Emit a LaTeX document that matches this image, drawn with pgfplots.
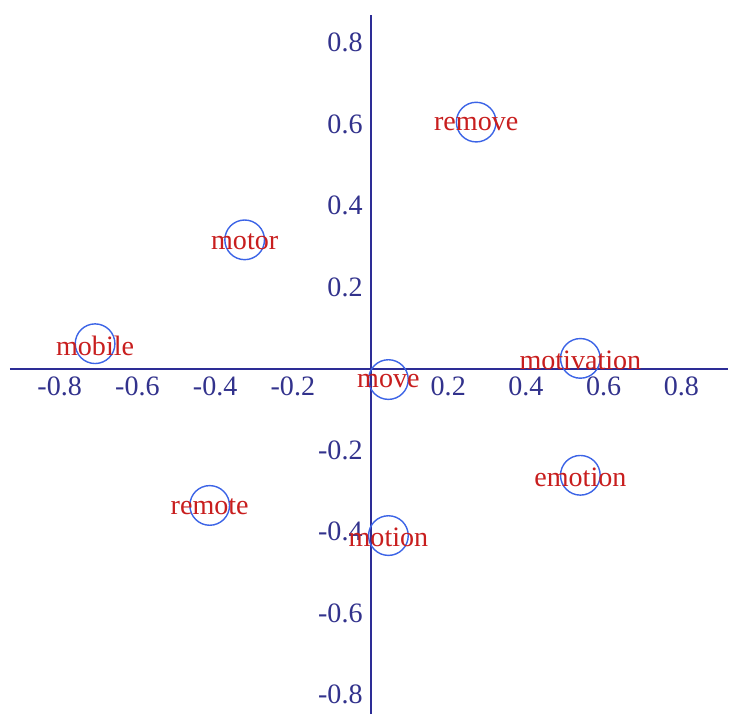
\documentclass[border=0pt]{standalone}
\usepackage{fontspec}
\setmainfont{Liberation Serif}
\usepackage{pgfplots}
\pgfplotsset{compat=1.18}
\definecolor{axisnavy}{RGB}{45,45,150}
\definecolor{ticknavy}{RGB}{50,50,140}
\definecolor{labelred}{RGB}{200,30,30}
\definecolor{ringblue}{RGB}{60,100,230}
\begin{document}
\begin{tikzpicture}
\begin{axis}[
  scale only axis, width=14.38cm, height=14.0cm,
  axis lines=middle, axis line style={axisnavy, line width=1.15pt, -},
  xmin=-0.928, xmax=0.92, ymin=-0.848, ymax=0.868,
  xtick={-0.8,-0.6,-0.4,-0.2,0.2,0.4,0.6,0.8},
  ytick={-0.8,-0.6,-0.4,-0.2,0.2,0.4,0.6,0.8},
  major tick length=0,
  /pgf/number format/assume math mode=true,
  /pgf/number format/fixed, /pgf/number format/precision=1,
  tick label style={font=\fontsize{16}{18}\selectfont, text=ticknavy},
  xticklabel style={yshift=-1pt},
  yticklabel style={xshift=-1pt},
  clip=false,
  nodes near coords, point meta=explicit symbolic,
  every node near coord/.append style={anchor=center, text=labelred,
    font=\fontsize{16}{18}\selectfont, inner sep=0pt, yshift=-1pt},
]
\addplot[only marks, mark=o, mark size=11.3pt,
  mark options={draw=ringblue, line width=0.8pt}]
  table[meta=label] {
x y label
0.272 0.605 remove
-0.324 0.316 motor
-0.709 0.061 mobile
0.046 -0.027 move
0.540 0.025 motivation
0.540 -0.262 emotion
-0.414 -0.336 remote
0.046 -0.410 motion
};
\end{axis}
\path ([xshift=-0.2cm,yshift=0.3cm]current axis.north west);
\end{tikzpicture}
\end{document}
